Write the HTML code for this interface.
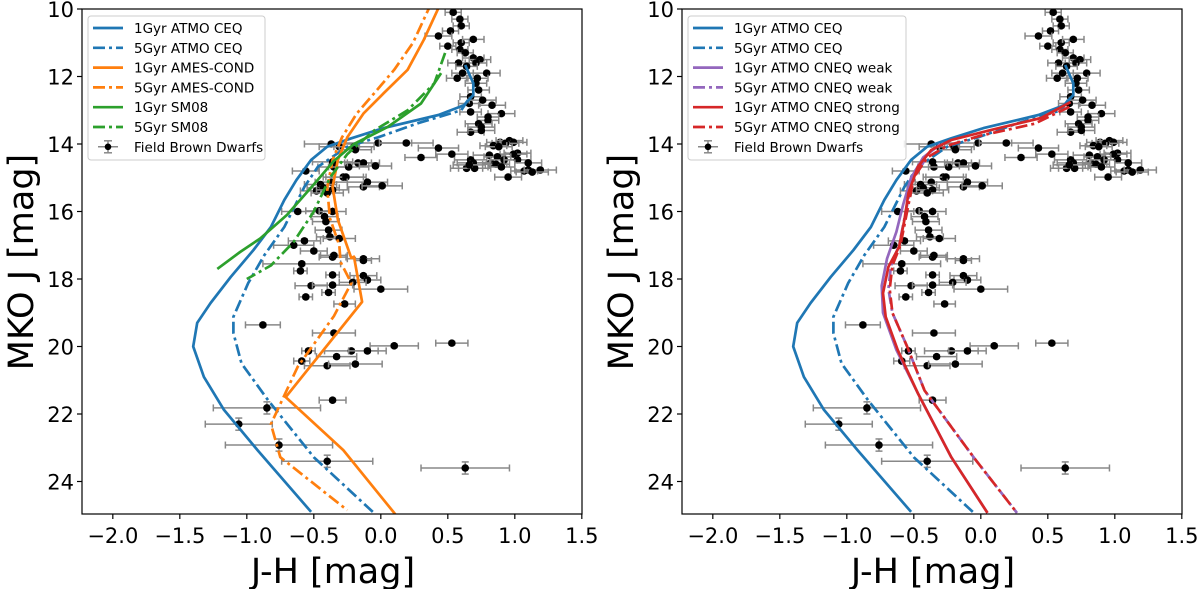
<!DOCTYPE html>
<html><head><meta charset="utf-8">
<style>
html,body{margin:0;padding:0;background:#fff;}
svg{display:block;font-family:"DejaVu Sans","Liberation Sans",sans-serif;}
</style></head>
<body>
<svg id="fig" width="1200" height="589" viewBox="0 0 1200 589" xmlns="http://www.w3.org/2000/svg">
<defs>
<clipPath id="clipL"><rect x="82" y="9" width="500" height="505"/></clipPath>
<clipPath id="clipR"><rect x="682" y="9" width="500" height="505"/></clipPath>
</defs>
</svg>
<script>
// ---- data ----
const xTicks = [-2.0,-1.5,-1.0,-0.5,0.0,0.5,1.0,1.5];
const yTicks = [10,12,14,16,18,20,22,24];
const dwarfJH = [0.54,0.59,0.60,0.52,0.43,0.50,0.60,0.69,0.59,0.63,0.69,0.74,0.71,0.58,0.64,0.79,0.61,0.57,0.72,0.71,0.73,0.67,0.66,0.76,0.83,0.90,0.80,0.80,0.67,0.73,0.75,0.67,0.75,
0.89,0.96,0.99,0.93,0.84,0.88,1.02,0.99,0.81,0.87,0.82,0.92,1.02,1.10,0.86,0.90,1.10,1.07,1.19,1.13,0.95,0.67,0.69,0.64,0.70,0.66,
-0.02,0.19,0.43,0.53,0.30,-0.37,-0.31,-0.20,-0.19,-0.56,-0.36,-0.35,-0.24,-0.17,-0.13,-0.04,-0.28,-0.26,-0.37,-0.10,-0.13,0.01,-0.45,-0.43,-0.48,-0.36,-0.40,
-0.62,-0.46,-0.36,-0.42,-0.41,-0.39,-0.38,-0.31,-0.57,-0.65,-0.50,-0.36,-0.13,
-0.35,-0.13,-0.59,-0.60,-0.36,-0.13,-0.10,-0.21,-0.52,-0.36,0.00,-0.39,-0.56,-0.27,-0.88,-0.35,0.53,0.10,-0.54,-0.22,-0.10,-0.33,-0.59,-0.40,-0.19,-0.36,-0.85,-1.06,-0.76,-0.40,0.63];
const dwarfJ = [10.1,10.3,10.5,10.65,10.8,11.1,11.0,10.9,11.2,11.3,11.45,11.5,11.6,11.6,11.7,11.9,11.9,12.05,12.05,12.2,12.4,12.6,12.8,12.7,12.85,13.1,13.2,13.3,13.05,13.4,13.5,13.65,13.6,
13.95,13.9,13.95,13.98,14.05,14.08,14.27,14.3,14.33,14.38,14.56,14.47,14.47,14.56,14.6,14.68,14.77,14.8,14.77,14.83,14.98,14.47,14.56,14.72,14.72,14.62,
13.97,13.97,14.12,14.3,14.4,14.0,14.08,14.08,14.17,14.8,14.53,14.68,14.68,14.56,14.56,14.65,14.98,14.98,15.13,15.13,15.27,15.24,15.2,15.3,15.39,15.36,15.45,
16.0,15.98,16.0,16.15,16.3,16.55,16.75,16.8,16.87,17.0,17.17,17.35,17.4,
17.3,17.45,17.55,17.76,17.88,17.9,18.03,18.1,18.2,18.18,18.3,18.4,18.53,18.74,19.36,19.6,19.9,19.98,20.13,20.13,20.13,20.3,20.43,20.57,20.52,21.59,21.82,22.3,22.92,23.4,23.6];
const dwarfJHerr = [0.06,0.06,0.06,0.06,0.1,0.06,0.06,0.08,0.06,0.06,0.08,0.08,0.08,0.08,0.08,0.1,0.08,0.08,0.08,0.08,0.08,0.08,0.08,0.1,0.1,0.1,0.08,0.08,0.08,0.1,0.1,0.1,0.1,
0.1,0.1,0.1,0.1,0.1,0.1,0.1,0.1,0.12,0.1,0.12,0.1,0.1,0.1,0.1,0.1,0.1,0.1,0.12,0.12,0.1,0.12,0.12,0.12,0.12,0.12,
0.25,0.2,0.15,0.12,0.12,0.2,0.15,0.15,0.12,0.1,0.15,0.12,0.15,0.1,0.12,0.12,0.15,0.15,0.12,0.15,0.12,0.15,0.12,0.12,0.12,0.12,0.12,
0.12,0.1,0.1,0.1,0.1,0.1,0.1,0.12,0.12,0.15,0.1,0.1,0.12,
0.1,0.06,0.29,0.05,0.05,0.1,0.1,0.1,0.12,0.15,0.2,0.05,0.05,0.08,0.13,0.16,0.12,0.18,0.05,0.2,0.14,0.15,0.06,0.17,0.2,0.1,0.4,0.25,0.4,0.34,0.33];
const dwarfJerr = dwarfJH.map((v,i)=> i>=dwarfJH.length-5 ? 0.18 : 0.05);
// model isochrones: [J-H, MKO J]
const atmo1JH=[0.63,0.69,0.69,0.62,0.43,0.02,-0.22,-0.40,-0.52,-0.63,-0.72,-0.82,-0.95,-1.12,-1.27,-1.37,-1.40,-1.32,-1.17,-0.92,-0.52];
const atmo1J =[11.66,12.2,12.55,12.85,13.14,13.53,13.83,14.08,14.47,15.07,15.66,16.46,17.14,17.94,18.71,19.3,20.0,20.9,21.88,23.07,24.9];
const atmo5JH=[0.65,0.60,0.28,-0.02,-0.25,-0.47,-0.57,-0.72,-0.87,-0.99,-1.10,-1.10,-1.04,-0.84,-0.50,-0.06];
const atmo5J =[12.7,13.0,13.38,13.8,14.08,14.68,15.27,16.46,17.3,18.12,19.12,19.6,20.5,21.6,23.28,24.9];
const ames1JH=[0.45,0.32,0.20,0.02,-0.13,-0.25,-0.32,-0.36,-0.32,-0.22,-0.20,-0.14,-0.71,-0.28,0.10,0.15];
const ames1J =[9.8,10.92,11.8,12.5,13.1,13.8,14.47,15.27,16.25,17.38,17.34,18.68,21.5,23.07,24.93,25.2];
const ames5JH=[0.38,0.24,0.10,-0.05,-0.18,-0.29,-0.36,-0.40,-0.38,-0.31,-0.30,-0.22,-0.35,-0.62,-0.82,-0.75,-0.25];
const ames5J =[9.8,11.0,11.8,12.5,13.1,13.8,14.47,15.3,16.2,17.0,17.5,18.12,19.1,20.6,22.3,23.28,24.85];
const sm1JH=[0.45,0.30,0.05,-0.20,-0.35,-0.50,-0.70,-0.90,-1.05,-1.22];
const sm1J =[11.9,12.8,13.5,14.0,14.5,15.2,16.1,16.8,17.2,17.7];
const sm5JH=[0.48,0.40,0.20,-0.05,-0.25,-0.38,-0.50,-0.65,-0.82,-1.0];
const sm5J =[11.3,12.2,13.0,13.6,14.3,15.0,16.0,16.9,17.6,18.0];
const strong1JH=[0.67,0.45,0.07,-0.22,-0.37,-0.47,-0.54,-0.57,-0.61,-0.69,-0.73,-0.71,-0.62,-0.47,-0.22,0.05];
const strong1J =[12.76,13.23,13.59,13.88,14.18,14.68,15.45,16.25,17.05,17.64,18.42,19.12,20.1,21.38,23.28,24.93];
const strong5JH=[0.66,0.40,0.0,-0.25,-0.40,-0.50,-0.55,-0.60,-0.66,-0.68,-0.66,-0.55,-0.42,-0.05,0.27];
const strong5J =[12.9,13.4,13.75,14.05,14.4,15.0,16.0,17.0,17.6,18.3,19.0,20.0,21.3,23.3,24.93];
const weak1JH=[-0.30,-0.43,-0.52,-0.58,-0.63,-0.70,-0.74,-0.73,-0.63,-0.47,-0.22,0.05];
const weak1J =[14.0,14.4,15.0,15.8,16.6,17.4,18.2,19.0,20.1,21.38,23.28,24.93];
const weak5JH=[-0.42,-0.51,-0.56,-0.61,-0.67,-0.69,-0.66,-0.55,-0.42,-0.05,0.27];
const weak5J =[14.5,15.0,16.0,17.0,17.6,18.3,19.0,20.0,21.3,23.3,24.93];

// ---- scales ----
const NS='http://www.w3.org/2000/svg';
const svg=document.getElementById('fig');
const XMIN=-2.23, PX=134, Y0=9, PY=33.75;
function xs(v,ox){return ox+(v-XMIN)*PX;}
function ys(v){return Y0+(v-10)*PY;}
function mk(tag,attrs,parent){const e=document.createElementNS(NS,tag);for(const k in attrs)e.setAttribute(k,attrs[k]);(parent||svg).appendChild(e);return e;}
const BLUE='#1f77b4',ORANGE='#ff7f0e',GREEN='#2ca02c',PURPLE='#9467bd',RED='#d62728';
const DASH='12,4,3,4';

function panel(ox,name,curves,legendW){
  const g=mk('g',{});
  
  
  const pg=mk('g',{'clip-path':'url(#clip'+(ox<300?'L':'R')+')'},g);
  
  
  for(let i=0;i<dwarfJH.length;i++){
    const cx=xs(dwarfJH[i],ox), cy=ys(dwarfJ[i]);
    const x1=xs(dwarfJH[i]-dwarfJHerr[i],ox), x2=xs(dwarfJH[i]+dwarfJHerr[i],ox);
    const y1=ys(dwarfJ[i]-dwarfJerr[i]), y2=ys(dwarfJ[i]+dwarfJerr[i]);
    const eg=mk('g',{stroke:'#888','stroke-width':1.5,fill:'none'},pg);
    mk('line',{x1:x1,y1:cy,x2:x2,y2:cy},eg);
    mk('line',{x1:x1,y1:cy-3.5,x2:x1,y2:cy+3.5},eg);
    mk('line',{x1:x2,y1:cy-3.5,x2:x2,y2:cy+3.5},eg);
    mk('line',{x1:cx,y1:y1,x2:cx,y2:y2},eg);
    mk('line',{x1:cx-3.5,y1:y1,x2:cx+3.5,y2:y1},eg);
    mk('line',{x1:cx-3.5,y1:y2,x2:cx+3.5,y2:y2},eg);
    const d=mk('circle',{cx:cx,cy:cy,r:3.8,fill:'#000'},pg);
    
    
  }
  const cg=mk('g',{'clip-path':'url(#clip'+(ox<300?'L':'R')+')'},g);
  curves.forEach(c=>{
    const pts=c.jh.map((v,i)=>xs(v,ox).toFixed(1)+','+ys(c.j[i]).toFixed(1)).join(' ');
    const p=mk('polyline',{points:pts,fill:'none',stroke:c.color,'stroke-width':2.7,'stroke-linejoin':'round','stroke-dasharray':c.dash?DASH:'none'},cg);
    
    
  });
  const fr=mk('rect',{x:ox,y:9,width:500,height:505,fill:'none',stroke:'#000','stroke-width':1.2},g);
  
  
  xTicks.forEach(t=>{
    const x=xs(t,ox);
    mk('line',{x1:x,y1:514,x2:x,y2:519,stroke:'#000','stroke-width':1.2},g);
    const tx=mk('text',{x:x,y:543,'font-size':21,'text-anchor':'middle',fill:'#000'},g);
    tx.textContent=(t<0?'\u2212':'')+Math.abs(t).toFixed(1);
    
    
  });
  yTicks.forEach(t=>{
    const y=ys(t);
    mk('line',{x1:ox-5,y1:y,x2:ox,y2:y,stroke:'#000','stroke-width':1.2},g);
    const tx=mk('text',{x:ox-8,y:y+8,'font-size':21,'text-anchor':'end',fill:'#000'},g);
    tx.textContent=String(t);
    
    
  });
  const xl=mk('text',{x:ox+251,y:583,'font-size':35,'text-anchor':'middle',fill:'#000'},g);
  xl.textContent='J-H [mag]';
  
  
  const yl=mk('text',{x:0,y:0,'font-size':35,'text-anchor':'middle',fill:'#000',transform:'translate('+(ox-49)+',262) rotate(-90)'},g);
  yl.textContent='MKO J [mag]';
  
  
  const lg=mk('g',{},g);
  
  
  mk('rect',{x:ox+6,y:16,width:legendW,height:144,rx:3,fill:'#fff','fill-opacity':0.85,stroke:'#ccc','stroke-width':1},lg);
  const entries=curves.map(c=>({label:c.label,color:c.color,dash:c.dash})).concat([{label:'Field Brown Dwarfs',err:true}]);
  entries.forEach((e,i)=>{
    const y=28+i*19.8;
    const eg=mk('g',{},lg);
    
    
    const lx=ox+11;
    if(e.err){
      mk('line',{x1:lx+5,y1:y,x2:lx+25,y2:y,stroke:'#888','stroke-width':1.5},eg);
      mk('line',{x1:lx+15,y1:y-6,x2:lx+15,y2:y+6,stroke:'#888','stroke-width':1.5},eg);
      mk('line',{x1:lx+11,y1:y-6,x2:lx+19,y2:y-6,stroke:'#888','stroke-width':1.5},eg);
      mk('line',{x1:lx+11,y1:y+6,x2:lx+19,y2:y+6,stroke:'#888','stroke-width':1.5},eg);
      mk('circle',{cx:lx+15,cy:y,r:3.3,fill:'#000'},eg);
    } else {
      mk('line',{x1:lx,y1:y,x2:lx+30,y2:y,stroke:e.color,'stroke-width':2.7,'stroke-dasharray':e.dash?'12,4,3,4':'none'},eg);
    }
    const t=mk('text',{x:lx+41,y:y+5,'font-size':13.5,fill:'#000'},eg);
    t.textContent=e.label;
  });
}

panel(82,'left-panel',[
  {id:'atmo-ceq-1gyr',label:'1Gyr ATMO CEQ',color:BLUE,dash:false,jh:atmo1JH,j:atmo1J},
  {id:'atmo-ceq-5gyr',label:'5Gyr ATMO CEQ',color:BLUE,dash:true,jh:atmo5JH,j:atmo5J},
  {id:'ames-cond-1gyr',label:'1Gyr AMES-COND',color:ORANGE,dash:false,jh:ames1JH,j:ames1J},
  {id:'ames-cond-5gyr',label:'5Gyr AMES-COND',color:ORANGE,dash:true,jh:ames5JH,j:ames5J},
  {id:'sm08-1gyr',label:'1Gyr SM08',color:GREEN,dash:false,jh:sm1JH,j:sm1J},
  {id:'sm08-5gyr',label:'5Gyr SM08',color:GREEN,dash:true,jh:sm5JH,j:sm5J}
],177);
panel(682,'right-panel',[
  {id:'atmo-ceq-1gyr',label:'1Gyr ATMO CEQ',color:BLUE,dash:false,jh:atmo1JH,j:atmo1J},
  {id:'atmo-ceq-5gyr',label:'5Gyr ATMO CEQ',color:BLUE,dash:true,jh:atmo5JH,j:atmo5J},
  {id:'cneq-weak-1gyr',label:'1Gyr ATMO CNEQ weak',color:PURPLE,dash:false,jh:weak1JH,j:weak1J},
  {id:'cneq-weak-5gyr',label:'5Gyr ATMO CNEQ weak',color:PURPLE,dash:true,jh:weak5JH,j:weak5J},
  {id:'cneq-strong-1gyr',label:'1Gyr ATMO CNEQ strong',color:RED,dash:false,jh:strong1JH,j:strong1J},
  {id:'cneq-strong-5gyr',label:'5Gyr ATMO CNEQ strong',color:RED,dash:true,jh:strong5JH,j:strong5J}
],218);
</script>
</body></html>
